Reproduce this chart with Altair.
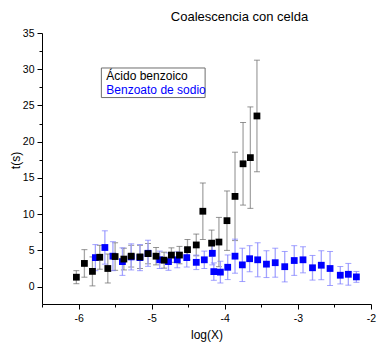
import altair as alt
import pandas as pd

# ---- data ----
black_x = [-6.03, -5.92, -5.81, -5.71, -5.60, -5.50, -5.38, -5.28, -5.16, -5.05, -4.94, -4.83,
           -4.73, -4.62, -4.51, -4.39, -4.30, -4.18, -4.08, -3.97, -3.86, -3.75, -3.65, -3.56]
black_t = [1.3, 3.2, 2.1, 4.05, 2.5, 4.15, 3.8, 4.2, 4.1, 4.55, 4.2, 3.65,
           4.35, 4.35, 5.1, 5.75, 10.4, 6.0, 6.15, 9.1, 12.45, 16.95, 17.8, 23.55]
black_err = [0.9, 1.9, 2.0, 1.65, 2.0, 1.9, 1.5, 1.5, 1.6, 1.4, 1.2, 1.1,
             1.0, 1.2, 1.4, 1.5, 3.9, 1.8, 3.4, 4.1, 6.1, 5.7, 7.0, 7.7]

blue_x = [-5.77, -5.64, -5.53, -5.40, -5.28, -5.16, -5.05, -4.89, -4.77, -4.65, -4.52, -4.39,
          -4.28, -4.17, -4.15, -4.06, -3.96, -3.86, -3.76, -3.66, -3.55, -3.43, -3.31, -3.18,
          -3.05, -2.93, -2.80, -2.68, -2.56, -2.42, -2.31, -2.20]
blue_t = [4.0, 5.4, 4.2, 3.45, 4.1, 4.0, 4.6, 3.7, 3.45, 3.7, 4.0, 3.35,
          3.7, 4.6, 2.07, 2.0, 2.67, 4.2, 3.0, 3.85, 3.7, 3.1, 3.3, 2.75,
          3.6, 3.7, 2.6, 2.95, 2.5, 1.57, 1.7, 1.34]
blue_err = [1.8, 2.3, 2.0, 1.9, 1.8, 1.8, 1.8, 1.2, 1.2, 1.1, 1.3, 1.0,
            1.2, 1.6, 1.2, 1.5, 1.7, 2.35, 2.3, 1.8, 2.35, 1.85, 2.0, 2.1,
            2.05, 1.8, 1.7, 2.0, 2.35, 1.2, 1.5, 0.75]

series_names = ["Ácido benzoico", "Benzoato de sodio"]
series_colors = ["#000000", "#0000ff"]

x_ticks = [-6.5, -6.0, -5.5, -5.0, -4.5, -4.0, -3.5, -3.0, -2.5, -2.0]
y_ticks = [0, 2.5, 5, 7.5, 10, 12.5, 15, 17.5, 20, 22.5, 25, 27.5, 30, 32.5, 35]

# legend box (in data units)
legend_x = [-5.688, -4.269]
legend_y = [30.17, 26.09]
legend_text_x = -5.62
legend_text_y = [29.0, 27.1]

FONT = "Liberation Sans"

x_scale = alt.Scale(domain=[-6.5, -2], nice=False, zero=False)
y_scale = alt.Scale(domain=[-2.4, 35], nice=False, zero=False)

x_axis = alt.Axis(
    values=x_ticks,
    labelExpr="datum.value % 1 == 0 ? '' + datum.value : ''",
    tickSize={"condition": {"test": "datum.value % 1 == 0", "value": 5}, "value": 3},
    title="log(X)", titlePadding=6, labelPadding=4, labelFlush=False, labelOverlap=False,
)
y_axis = alt.Axis(
    values=y_ticks,
    labelExpr="datum.value % 5 == 0 ? '' + datum.value : ''",
    tickSize={"condition": {"test": "datum.value % 5 == 0", "value": 5}, "value": 3},
    title="t(s)", titleX=-20, titleY=127, labelPadding=3, labelFlush=False, labelOverlap=False,
)


def series(x, t, err, color, err_color, cap_color):
    df = pd.DataFrame({"x": x, "t": t, "err": err})
    base = alt.Chart(df).transform_calculate(lo="datum.t - datum.err", hi="datum.t + datum.err")
    X = alt.X("x:Q", scale=x_scale, axis=x_axis)
    rule = base.mark_rule(color=err_color, strokeWidth=1.3).encode(
        x=X, y=alt.Y("lo:Q", scale=y_scale, axis=y_axis), y2="hi:Q")
    cap_lo = base.mark_tick(color=cap_color, orient="horizontal", size=6, thickness=1).encode(
        x=X, y=alt.Y("lo:Q", scale=y_scale, axis=y_axis))
    cap_hi = base.mark_tick(color=cap_color, orient="horizontal", size=6, thickness=1).encode(
        x=X, y=alt.Y("hi:Q", scale=y_scale, axis=y_axis))
    pts = base.mark_square(color=color, size=46, opacity=1).encode(
        x=X, y=alt.Y("t:Q", scale=y_scale, axis=y_axis))
    return rule + cap_lo + cap_hi, pts


blue_err_layer, blue_pts = series(blue_x, blue_t, blue_err, series_colors[1], "#a3a3ff", "#7a7aff")
black_err_layer, black_pts = series(black_x, black_t, black_err, series_colors[0], "#a6a6a6", "#666666")

box_df = pd.DataFrame({"x1": [legend_x[0]], "x2": [legend_x[1]], "y1": [legend_y[0]], "y2": [legend_y[1]]})
box = alt.Chart(box_df).mark_rect(fill="white", stroke="#6e6e6e", strokeWidth=1).encode(
    x=alt.X("x1:Q", scale=x_scale, axis=x_axis), x2="x2:Q",
    y=alt.Y("y1:Q", scale=y_scale, axis=y_axis), y2="y2:Q")

lab_df = pd.DataFrame({"name": series_names, "color": series_colors,
                       "x": [legend_text_x] * 2, "y": legend_text_y})
labels = alt.Chart(lab_df).mark_text(align="left", baseline="middle", font=FONT, fontSize=12).encode(
    x=alt.X("x:Q", scale=x_scale, axis=x_axis),
    y=alt.Y("y:Q", scale=y_scale, axis=y_axis),
    text="name:N",
    color=alt.Color("color:N", scale=None))

chart = alt.layer(
    black_err_layer, blue_err_layer, blue_pts, black_pts, box, labels
).properties(
    width=329, height=271,
    padding={"left": 34, "top": 25, "right": 6, "bottom": 41},
    autosize=alt.AutoSizeParams(type="none"),
    title=alt.TitleParams("Coalescencia con celda", font=FONT, fontSize=13, fontWeight="normal",
                          color="black", anchor="middle", dx=33),
).configure_view(stroke=None).configure_axis(
    grid=False, domainColor="black", tickColor="black", labelColor="black",
    labelFont=FONT, labelFontSize=10.5, titleFont=FONT, titleFontSize=12,
    titleFontWeight="normal", titleColor="black", domainWidth=1, tickWidth=1,
)

chart.save("out.html", embed_options={"renderer": "svg", "actions": False})
